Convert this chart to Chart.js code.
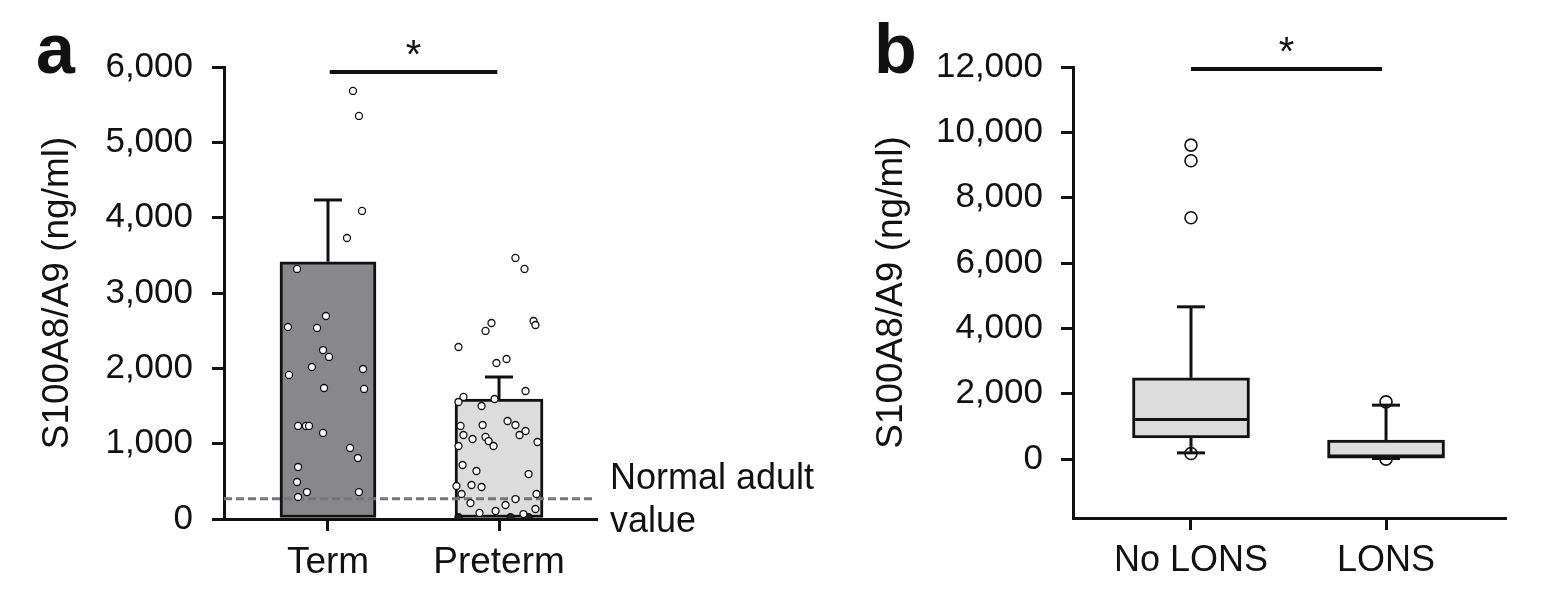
<!DOCTYPE html>
<html><head><meta charset="utf-8">
<script src="https://cdn.jsdelivr.net/npm/chart.js@4.4.0/dist/chart.umd.min.js"></script>
<style>
html,body{margin:0;padding:0;background:#fff;overflow:hidden}
#wrap{position:relative;width:1549px;height:601px;background:#fff}
canvas{position:absolute;top:0}
</style></head><body>
<div id="wrap">
<canvas id="ca" width="840" height="601" style="left:0;width:840px;height:601px"></canvas>
<canvas id="cb" width="709" height="601" style="left:840px;width:709px;height:601px"></canvas>
</div>
<script>
// ---------- Panel a data ----------
const groupsA = ['Term', 'Preterm'];
const meanA = [3415, 1593];
const errTopA = [4235, 1885];
const yTicksA = [0, 1000, 2000, 3000, 4000, 5000, 6000];
const normalAdultValue = 270;
const termDots = [5682, 5350, 4089, 3730, 3319, 2695, 2549, 2536, 2243, 2151, 2018, 1991, 1912, 1739, 1726, 1235, 1235, 1235, 1142, 943, 810, 690, 491, 358, 358, 292];
const termJitter = [0.146, 0.181, 0.199, 0.111, -0.181, -0.012, -0.234, -0.064, -0.029, 0.006, -0.094, 0.205, -0.228, -0.023, 0.211, -0.175, -0.129, -0.111, -0.029, 0.129, 0.175, -0.175, -0.181, -0.123, 0.181, -0.175];
const pretermDots = [3465, 3319, 2602, 2496, 2628, 2575, 2283, 2071, 2124, 1699, 1620, 1553, 1593, 1500, 1301, 1248, 1168, 1115, 1235, 1248, 1115, 1062, 1089, 1035, 969, 969, 1022, 717, 637, 597, 438, 451, 425, 332, 332, 265, 212, 186, 133, 106, 80, 66];
const pretermJitter = [0.096, 0.149, -0.044, -0.079, 0.202, 0.213, -0.237, -0.015, 0.044, 0.155, -0.208, -0.237, -0.026, -0.102, 0.050, 0.096, 0.155, 0.120, -0.225, -0.096, -0.208, -0.155, -0.079, -0.061, -0.032, -0.237, 0.225, -0.213, -0.132, 0.173, -0.249, -0.161, -0.102, -0.219, 0.219, 0.096, -0.167, 0.038, 0.213, -0.020, -0.114, 0.143];
const pretermLowDots = [25, 25, 25];
const pretermLowJitter = [-0.237, 0.067, 0.173];
const sigA = { from: 1.01, to: 1.99, value: 5934, label: '*' };
const xBoundsA = [0.392, 2.567];

// ---------- Panel b data ----------
const groupsB = ['No LONS', 'LONS'];
const q1B = [652, 30];
const medianB = [1215, 100];
const q3B = [2489, 582];
const whiskerLowB = [193, 20];
const whiskerHighB = [4662, 1653];
const outliersNoLons = [9611, 9131, 7386, 175];
const outliersLons = [1754, 0];
const yTicksB = [0, 2000, 4000, 6000, 8000, 10000, 12000];
const sigB = { from: 1.0, to: 1.98, value: 11937, label: '*' };
const xBoundsB = [0.395, 2.61];
const yBoundsB = [-1800, 12000];

const FONT = "'Liberation Sans', Arial, Helvetica, sans-serif";
const INK = '#111';

function axisCommon(extra) {
  return Object.assign({
    grid: { display: true, drawOnChartArea: false, drawTicks: true, tickLength: 12, color: '#111', lineWidth: 3, offset: false },
    border: { display: true, color: '#111', width: 3 }
  }, extra);
}

const fmt = v => Number(v).toLocaleString('en-US');

// ---------- Panel a plugin ----------
const panelAPlugin = {
  id: 'panelA',
  afterDatasetsDraw(chart) {
    const ctx = chart.ctx, x = chart.scales.x, y = chart.scales.y;
    ctx.save();
    ctx.strokeStyle = '#111'; ctx.lineWidth = 3;
    meanA.forEach((m, i) => {
      const cx = x.getPixelForValue(i + 1);
      const yTop = y.getPixelForValue(errTopA[i]);
      const yM = y.getPixelForValue(m);
      ctx.beginPath(); ctx.moveTo(cx, yM); ctx.lineTo(cx, yTop); ctx.stroke();
      ctx.beginPath(); ctx.moveTo(cx - 14, yTop); ctx.lineTo(cx + 14, yTop); ctx.stroke();
    });
    const sy = y.getPixelForValue(sigA.value);
    const sx1 = x.getPixelForValue(sigA.from), sx2 = x.getPixelForValue(sigA.to);
    ctx.lineWidth = 4;
    ctx.beginPath(); ctx.moveTo(sx1, sy); ctx.lineTo(sx2, sy); ctx.stroke();
    ctx.fillStyle = INK; ctx.font = '40px ' + FONT; ctx.textAlign = 'center'; ctx.textBaseline = 'alphabetic';
    ctx.fillText(sigA.label, (sx1 + sx2) / 2, sy - 4);
    ctx.restore();
  },
  afterDraw(chart) {
    const ctx = chart.ctx;
    ctx.save();
    ctx.fillStyle = INK;
    ctx.font = 'bold 70px ' + FONT; ctx.textAlign = 'left'; ctx.textBaseline = 'alphabetic';
    ctx.fillText('a', 36, 73);
    ctx.font = '36px ' + FONT;
    ctx.fillText('Normal adult', 610, 489);
    ctx.fillText('value', 610, 532);
    ctx.restore();
  }
};

// ---------- Panel b plugin ----------
const panelBPlugin = {
  id: 'panelB',
  afterDatasetsDraw(chart) {
    const ctx = chart.ctx, x = chart.scales.x, y = chart.scales.y;
    ctx.save();
    ctx.strokeStyle = '#111'; ctx.lineWidth = 3;
    groupsB.forEach((g, i) => {
      const cx = x.getPixelForValue(i + 1);
      const half = 58;
      const yHi = y.getPixelForValue(whiskerHighB[i]), yQ3 = y.getPixelForValue(q3B[i]);
      const yLo = y.getPixelForValue(whiskerLowB[i]), yQ1 = y.getPixelForValue(q1B[i]);
      ctx.beginPath(); ctx.moveTo(cx, yQ3); ctx.lineTo(cx, yHi); ctx.stroke();
      ctx.beginPath(); ctx.moveTo(cx - 14, yHi); ctx.lineTo(cx + 14, yHi); ctx.stroke();
      if (yLo > yQ1) {
        ctx.beginPath(); ctx.moveTo(cx, yQ1); ctx.lineTo(cx, yLo); ctx.stroke();
        ctx.beginPath(); ctx.moveTo(cx - 14, yLo); ctx.lineTo(cx + 14, yLo); ctx.stroke();
      }
      const yMed = y.getPixelForValue(medianB[i]);
      ctx.beginPath(); ctx.moveTo(cx - half, yMed); ctx.lineTo(cx + half, yMed); ctx.stroke();
    });
    const sy = y.getPixelForValue(sigB.value);
    const sx1 = x.getPixelForValue(sigB.from), sx2 = x.getPixelForValue(sigB.to);
    ctx.lineWidth = 4;
    ctx.beginPath(); ctx.moveTo(sx1, sy); ctx.lineTo(sx2, sy); ctx.stroke();
    ctx.fillStyle = INK; ctx.font = '40px ' + FONT; ctx.textAlign = 'center'; ctx.textBaseline = 'alphabetic';
    ctx.fillText(sigB.label, (sx1 + sx2) / 2, sy - 4);
    ctx.restore();
  },
  afterDraw(chart) {
    const ctx = chart.ctx;
    ctx.save();
    ctx.fillStyle = INK;
    ctx.font = 'bold 70px ' + FONT; ctx.textAlign = 'left'; ctx.textBaseline = 'alphabetic';
    ctx.fillText('b', 34, 73);
    ctx.restore();
  }
};

// ---------- Chart a ----------
new Chart(document.getElementById('ca'), {
  type: 'bar',
  data: {
    datasets: [
      { type: 'scatter', data: termDots.map((v, i) => ({ x: 1 + termJitter[i], y: v })),
        pointRadius: 3.5, pointBackgroundColor: '#fff', pointBorderColor: '#111', pointBorderWidth: 1.3, order: 0 },
      { type: 'scatter', data: pretermDots.map((v, i) => ({ x: 2 + pretermJitter[i], y: v })),
        pointRadius: 3.5, pointBackgroundColor: '#fff', pointBorderColor: '#111', pointBorderWidth: 1.3, order: 0 },
      { type: 'scatter', data: pretermLowDots.map((v, i) => ({ x: 2 + pretermLowJitter[i], y: v })),
        pointRadius: 3.5, pointBackgroundColor: '#222', pointBorderColor: '#111', pointBorderWidth: 1.3, order: 0 },
      { type: 'line', data: xBoundsA.map(b => ({ x: b, y: normalAdultValue })),
        borderColor: '#757575', borderWidth: 3, borderDash: [8, 4], pointRadius: 0, fill: false, order: 1 },
      { type: 'bar', label: groupsA[0], data: [{ x: 1, y: meanA[0] }], backgroundColor: '#88888c',
        borderColor: '#111', borderWidth: 3, borderSkipped: false, grouped: false, maxBarThickness: 96,
        categoryPercentage: 1, barPercentage: 1, order: 2 },
      { type: 'bar', label: groupsA[1], data: [{ x: 2, y: meanA[1] }], backgroundColor: '#dcdcdc',
        borderColor: '#111', borderWidth: 3, borderSkipped: false, grouped: false, maxBarThickness: 88,
        categoryPercentage: 1, barPercentage: 1, order: 2 }
    ]
  },
  options: {
    responsive: false, animation: false, devicePixelRatio: 1,
    layout: { padding: { top: 67, right: 244, bottom: 0, left: 0 } },
    plugins: { legend: { display: false }, tooltip: { enabled: false } },
    scales: {
      x: axisCommon({
        type: 'linear', min: xBoundsA[0], max: xBoundsA[1], offset: false,
        afterFit: s => { s.height = 82; },
        afterBuildTicks: s => { s.ticks = groupsA.map((g, i) => ({ value: i + 1 })); },
        ticks: { autoSkip: false, maxRotation: 0, padding: 10, color: INK, font: { family: FONT, size: 37 },
          callback: v => groupsA[Math.round(v) - 1] }
      }),
      y: axisCommon({
        type: 'linear', min: yTicksA[0], max: yTicksA[yTicksA.length - 1],
        afterFit: s => { s.width = 224; },
        afterBuildTicks: s => { s.ticks = yTicksA.map(v => ({ value: v })); },
        ticks: { padding: 19, color: INK, font: { family: FONT, size: 35 }, callback: v => fmt(v) },
        title: { display: true, text: 'S100A8/A9 (ng/ml)', color: INK, font: { family: FONT, size: 37 }, padding: { top: 36, bottom: 0 } }
      })
    }
  },
  plugins: [panelAPlugin]
});

// ---------- Chart b ----------
new Chart(document.getElementById('cb'), {
  type: 'bar',
  data: {
    datasets: [
      { type: 'bar', data: groupsB.map((g, i) => ({ x: i + 1, y: [q1B[i], q3B[i]] })), backgroundColor: '#dcdcdc',
        borderColor: '#111', borderWidth: 3, borderSkipped: false, grouped: false, maxBarThickness: 117,
        categoryPercentage: 1, barPercentage: 1, order: 0 },
      { type: 'scatter', data: outliersNoLons.map(v => ({ x: 1, y: v })).concat(outliersLons.map(v => ({ x: 2, y: v }))),
        pointRadius: 6, pointBackgroundColor: 'rgba(255,255,255,0)', pointBorderColor: '#111', pointBorderWidth: 1.6, order: 1 }
    ]
  },
  options: {
    responsive: false, animation: false, devicePixelRatio: 1,
    layout: { padding: { top: 67, right: 44, bottom: 0, left: 0 } },
    plugins: { legend: { display: false }, tooltip: { enabled: false } },
    scales: {
      x: axisCommon({
        type: 'linear', min: xBoundsB[0], max: xBoundsB[1], offset: false,
        afterFit: s => { s.height = 83; },
        afterBuildTicks: s => { s.ticks = groupsB.map((g, i) => ({ value: i + 1 })); },
        ticks: { autoSkip: false, maxRotation: 0, padding: 9, color: INK, font: { family: FONT, size: 36 },
          callback: v => groupsB[Math.round(v) - 1] }
      }),
      y: axisCommon({
        type: 'linear', min: yBoundsB[0], max: yBoundsB[1],
        afterFit: s => { s.width = 233; },
        afterBuildTicks: s => { s.ticks = yTicksB.map(v => ({ value: v })); },
        ticks: { padding: 18, color: INK, font: { family: FONT, size: 35 }, callback: v => fmt(v) },
        title: { display: true, text: 'S100A8/A9 (ng/ml)', color: INK, font: { family: FONT, size: 37 }, padding: { top: 30, bottom: 0 } }
      })
    }
  },
  plugins: [panelBPlugin]
});
</script>
</body></html>
